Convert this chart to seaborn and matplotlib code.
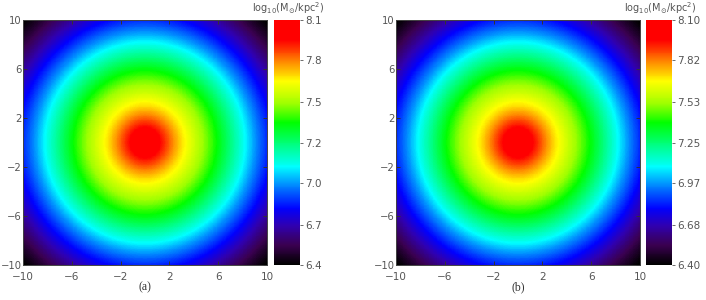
import numpy as np
import matplotlib
matplotlib.use("Agg")
import matplotlib.pyplot as plt
from matplotlib.colors import LinearSegmentedColormap
import seaborn as sns

# radial surface-density profile (kpc, log10 Msun/kpc^2)
radius_kpc = [0, 1, 2, 3, 4, 5, 6, 7, 8, 9, 10, 11, 12, 13, 14.2]
log_sigma = [8.14, 8.00, 7.85, 7.71, 7.60, 7.49, 7.37, 7.24, 7.11, 6.97,
             6.84, 6.72, 6.60, 6.49, 6.38]

axis_ticks = [-10, -6, -2, 2, 6, 10]
cbar_ticks = [6.40, 6.68, 6.97, 7.25, 7.53, 7.82, 8.10]
cbar_labels_a = ["6.4", "6.7", "7.0", "7.2", "7.5", "7.8", "8.1"]
cbar_labels_b = ["6.40", "6.68", "6.97", "7.25", "7.53", "7.82", "8.10"]
panel_names = ["(a)", "(b)"]

# IDL-like rainbow table
cmap = LinearSegmentedColormap.from_list("idl_rainbow", [
    (0.00, "#000000"), (0.08, "#3a0050"), (0.16, "#3000b0"),
    (0.23, "#0000ff"), (0.33, "#0090ff"), (0.40, "#00ffff"),
    (0.48, "#00ff90"), (0.58, "#00ff00"), (0.66, "#a0ff00"),
    (0.75, "#ffff00"), (0.82, "#ff9900"), (0.87, "#ff4800"),
    (0.92, "#ff0000"), (1.00, "#ff0000")])

N = 300
d = 20.0 / N
xs = np.linspace(-10 + d / 2, 10 - d / 2, N)
ys = xs[::-1]  # heatmap row 0 is at the top
X, Y = np.meshgrid(xs, ys)
Z = np.interp(np.hypot(X, Y), radius_kpc, log_sigma)

fig = plt.figure(figsize=(7.06, 3.0), dpi=100)
W, H = 706.0, 300.0
txt = "#555555"

layout = [  # axes left, colorbar left (pixels)
    (23, 274, cbar_labels_a),
    (396, 646, cbar_labels_b),
]

for i, (ax_left, cb_left, cb_labels) in enumerate(layout):
    ax = fig.add_axes([ax_left / W, 35 / H, 244 / W, 245 / H])
    cax = fig.add_axes([cb_left / W, 35 / H, 26 / W, 245 / H])
    sns.heatmap(Z, ax=ax, cbar_ax=cax, cmap=cmap, vmin=6.4, vmax=8.1,
                xticklabels=False, yticklabels=False, rasterized=True)

    ax.set_xticks([(v + 10) / 20 * N for v in axis_ticks])
    ax.set_xticklabels([f"\u2212{-v}" if v < 0 else str(v) for v in axis_ticks])
    ax.set_yticks([(10 - v) / 20 * N for v in axis_ticks])
    ax.set_yticklabels([f"\u2212{-v}" if v < 0 else str(v) for v in axis_ticks],
                       rotation=0)
    ax.tick_params(direction="in", length=3, width=0.7, top=True, right=True,
                   labelsize=7.5, labelcolor=txt, color="#333333")
    ax.tick_params(axis="x", pad=5)
    ax.tick_params(axis="y", pad=1, labelsize=7.2)
    for s in ax.spines.values():
        s.set_visible(True)
        s.set_linewidth(0.7)
        s.set_color("#444444")

    cax.set_yticks(cbar_ticks)
    cax.set_yticklabels(cb_labels)
    cax.tick_params(direction="out", length=2, width=0.6, labelsize=7.5,
                    labelcolor=txt, pad=1.5, color="#555555")

    fig.text((cb_left + 14) / W, 1 - 8 / H,
             r"log$_{10}$(M$_{\odot}$/kpc$^2$)", ha="center", va="center",
             fontsize=7, color=txt)
    fig.text((ax_left + 122) / W, 1 - 287 / H, panel_names[i],
             ha="center", va="center", fontsize=8.5, color="#333333",
             family="Liberation Serif")

fig.savefig("out.png", dpi=100)
